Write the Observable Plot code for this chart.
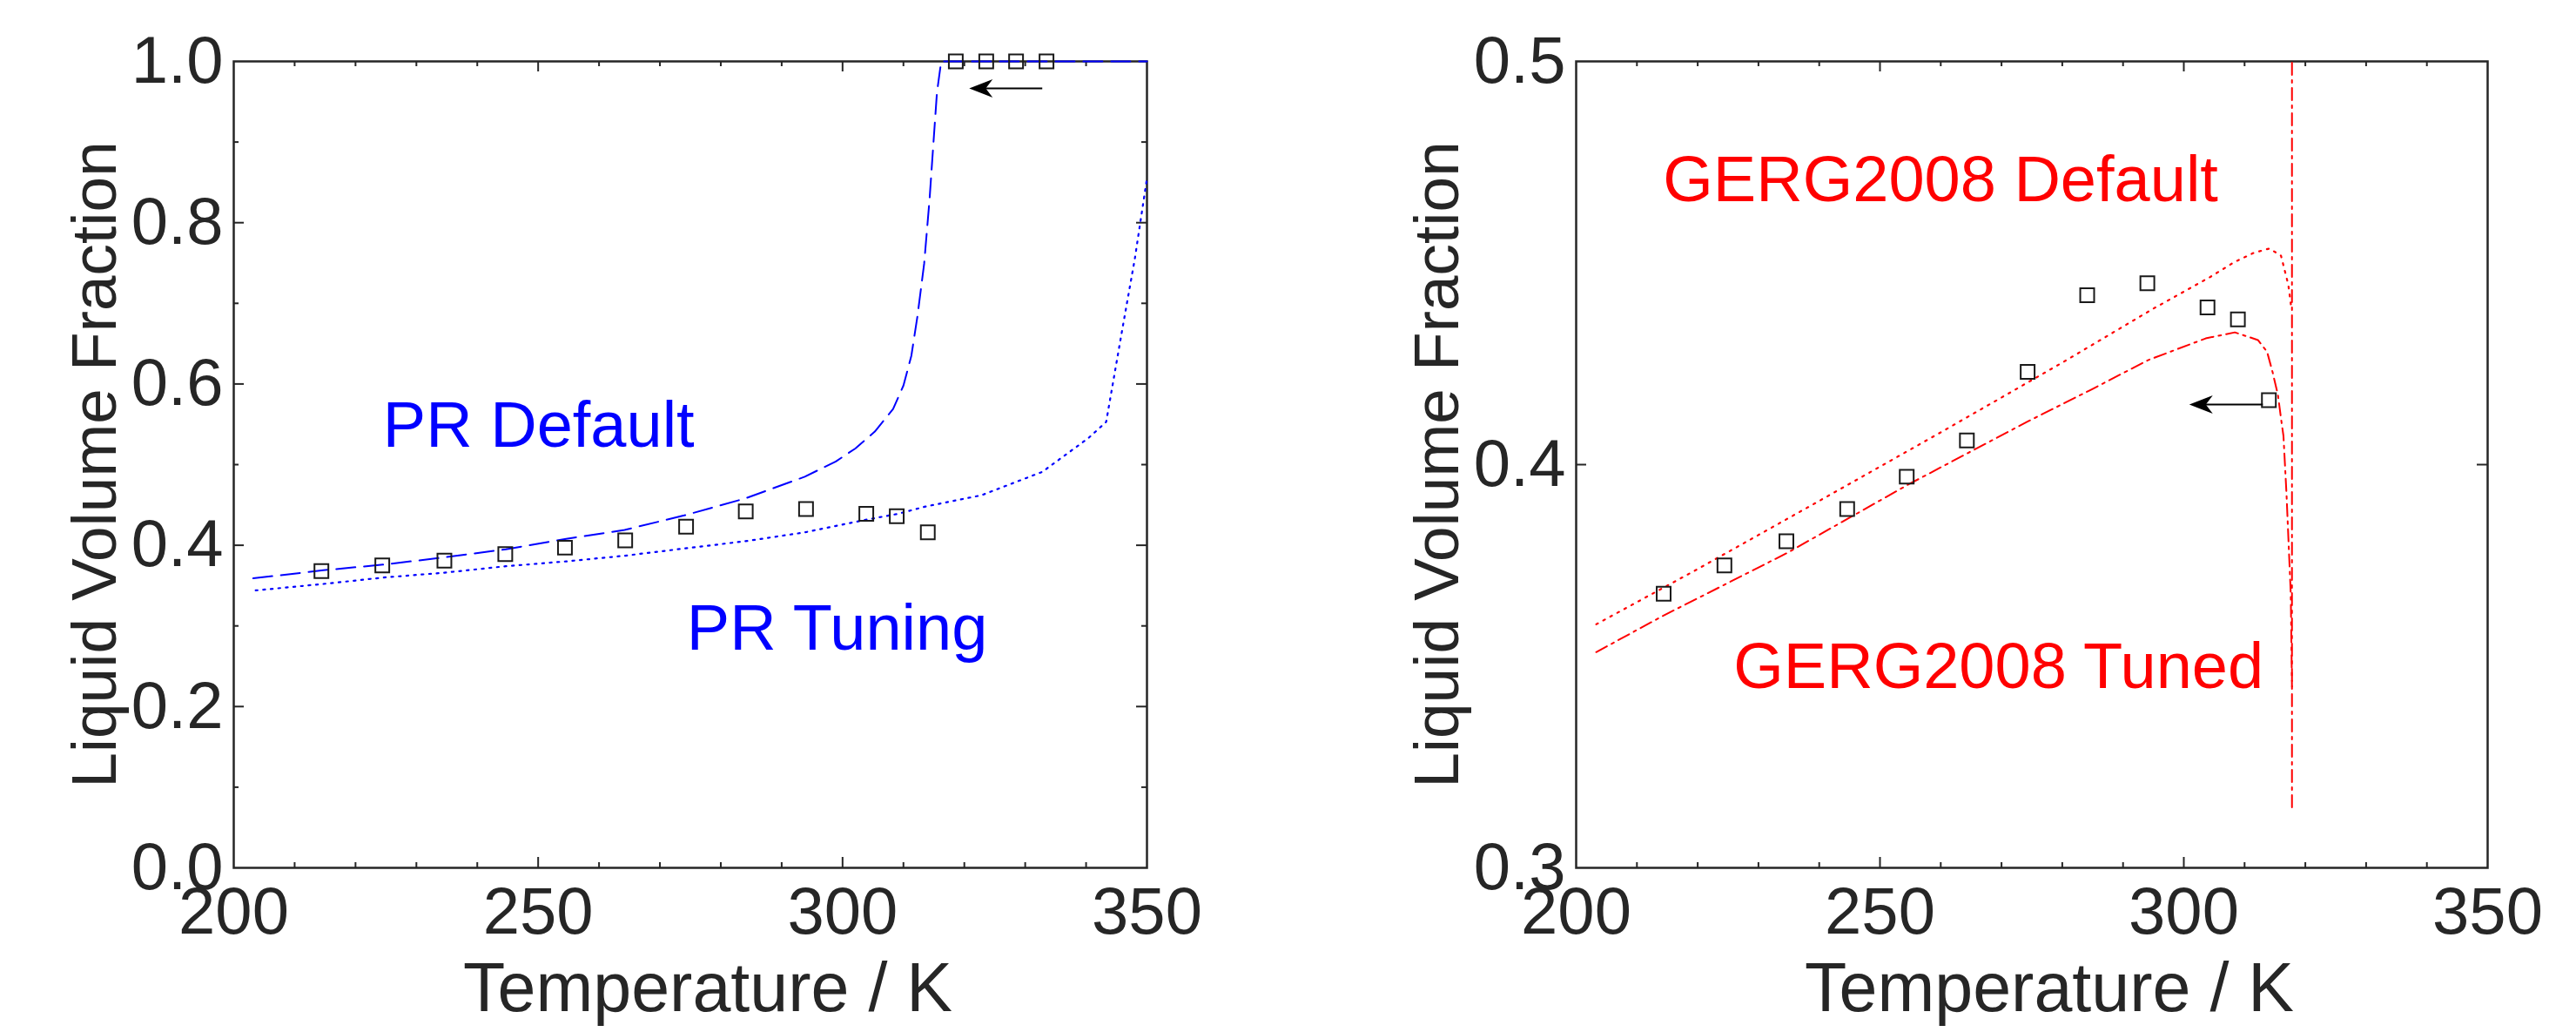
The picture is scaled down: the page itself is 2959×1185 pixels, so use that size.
<!DOCTYPE html>
<html>
<head>
<meta charset="utf-8">
<script src="https://cdn.jsdelivr.net/npm/d3@7"></script>
<script src="https://cdn.jsdelivr.net/npm/@observablehq/plot@0.6"></script>
<style>
html, body { margin: 0; padding: 0; background: #fff; }
#wrap { position: relative; width: 2959px; height: 1185px; overflow: hidden; background: #fff; }
#wrap > * { position: absolute; top: 0; }
</style>
</head>
<body>
<div id="wrap"></div>
<script>
// ---------- data ----------
const xTickLabels = [200, 250, 300, 350];
const xMajorTicks = [250, 300];
const xMinorTicks = [210, 220, 230, 240, 260, 270, 280, 290, 310, 320, 330, 340];
const yTickLabelsL = [0, 0.2, 0.4, 0.6, 0.8, 1.0];
const yMajorTicksL = [0.2, 0.4, 0.6, 0.8];
const yMinorTicksL = [0.1, 0.3, 0.5, 0.7, 0.9];
const yTickLabelsR = [0.3, 0.4, 0.5];
const yMajorTicksR = [0.4];

// experimental points (squares)
const expT = [214.4, 224.4, 234.6, 244.6, 254.4, 264.3, 274.3, 284.1, 294.0, 303.9, 308.9, 314.0];
const expV = [0.368, 0.375, 0.381, 0.389, 0.397, 0.406, 0.423, 0.442, 0.445, 0.439, 0.436, 0.416];
const expTopT = [318.6, 323.6, 328.5, 333.5];
const expTopV = [1.0, 1.0, 1.0, 1.0];

// PR Default (blue dashed)
const prDefT = [203.2, 214.7, 224.6, 234.6, 244.7, 254.6, 264.2, 274.0, 284.0, 293.8, 298.9, 302.1, 305.3, 308.3, 310.0, 311.3, 312.3, 313.4, 314.3, 314.9, 315.5, 316.2, 350];
const prDefV = [0.359, 0.369, 0.376, 0.385, 0.395, 0.408, 0.419, 0.437, 0.458, 0.485, 0.504, 0.520, 0.541, 0.569, 0.598, 0.635, 0.684, 0.749, 0.830, 0.896, 0.961, 1.0, 1.0];

// PR Tuning (blue dotted)
const prTunT = [203.6, 214.7, 224.6, 234.6, 244.7, 254.6, 264.2, 274.0, 284.0, 293.8, 303.4, 309.1, 313.6, 322.8, 332.8, 340.4, 343.3, 344.5, 346.0, 348.0, 350.0];
const prTunV = [0.344, 0.352, 0.360, 0.366, 0.374, 0.380, 0.387, 0.396, 0.405, 0.416, 0.431, 0.439, 0.448, 0.462, 0.491, 0.533, 0.553, 0.605, 0.670, 0.755, 0.855];

// GERG2008 Default (red dotted)
const gDefT = [203.3, 220, 240, 260, 280, 295, 304.3, 308.4, 311.5, 314.1, 316.0, 317.2, 317.7];
const gDefV = [0.3604, 0.3741, 0.3910, 0.4080, 0.4253, 0.4387, 0.4465, 0.4503, 0.4525, 0.4536, 0.4518, 0.4446, 0.4388];

// GERG2008 Tuned (red dash-dot)
const gTunT = [203.3, 214.3, 234.6, 254.7, 274.2, 284.5, 294.1, 303.6, 308.4, 312.2, 313.7, 314.6, 315.5, 316.0, 316.4, 316.9, 317.6, 317.8];
const gTunV = [0.3535, 0.3625, 0.3780, 0.3951, 0.4106, 0.4184, 0.4259, 0.4313, 0.4328, 0.4309, 0.4280, 0.4230, 0.4172, 0.4114, 0.4071, 0.3927, 0.3680, 0.3450];
const gVertT = [317.8, 317.8];
const gVertV = [0.315, 0.5];

// arrows
const arrowLeft = [{x1: 332.8, x2: 320.8, y: 0.9665}];
const arrowRight = [{x1: 313.0, x2: 300.9, y: 0.4149}];

// annotations
const labelsLeft = [
  {text: "PR Default", T: 224.5, v: 0.522},
  {text: "PR Tuning", T: 274.4, v: 0.271}
];
const labelsRight = [
  {text: "GERG2008 Default", T: 214.3, v: 0.4654},
  {text: "GERG2008 Tuned", T: 225.9, v: 0.3447}
];

// ---------- helpers ----------
const pts = (X, Y) => X.map((T, i) => ({T, v: Y[i]}));
const AX = "#262626";
const FONT = "'Liberation Sans', Arial, Helvetica, sans-serif";
const H = 1185, MT = 70, MB = 189;
const FH = H - MT - MB;

const arrowHead = {
  draw(ctx) {
    ctx.moveTo(0, 0);
    ctx.lineTo(27, -10.5);
    ctx.lineTo(19, 0);
    ctx.lineTo(27, 10.5);
    ctx.closePath();
  }
};

function tickMarks(fw, xMaj, xMin, yMaj, yMin) {
  const M = 12, m = 6, sw = 2;
  const o = {stroke: AX, strokeWidth: sw};
  return [
    Plot.tickX(xMaj, {x: d => d, insetTop: FH - M, ...o}),
    Plot.tickX(xMaj, {x: d => d, insetBottom: FH - M, ...o}),
    Plot.tickX(xMin, {x: d => d, insetTop: FH - m, ...o}),
    Plot.tickX(xMin, {x: d => d, insetBottom: FH - m, ...o}),
    Plot.tickY(yMaj, {y: d => d, insetRight: fw - M, ...o}),
    Plot.tickY(yMaj, {y: d => d, insetLeft: fw - M, ...o}),
    Plot.tickY(yMin, {y: d => d, insetRight: fw - m, ...o}),
    Plot.tickY(yMin, {y: d => d, insetLeft: fw - m, ...o})
  ];
}

function axisLabels() {
  return [
    Plot.text(["Temperature / K"], {text: d => d, frameAnchor: "bottom", textAnchor: "middle", dx: 20, dy: 164, lineAnchor: "bottom", fontSize: 79, fill: AX}),
    Plot.text(["Liquid Volume Fraction"], {text: d => d, frameAnchor: "left", textAnchor: "middle", rotate: -90, dx: -136, lineAnchor: "bottom", fontSize: 73, fill: AX})
  ];
}

function arrowMarks(a) {
  return [
    Plot.link(a, {x1: "x1", x2: d => d.x2 + 1.5, y1: "y", y2: "y", stroke: "black", strokeWidth: 2}),
    Plot.dot(a, {x: "x2", y: "y", symbol: arrowHead, r: 10, fill: "black", stroke: "none"})
  ];
}

function squares(X, Y) {
  return Plot.dot(pts(X, Y), {x: "T", y: "v", symbol: "square", r: 9, fill: "none", stroke: "#1a1a1a", strokeWidth: 2});
}

// ---------- left panel ----------
const WL = 1479;
const leftFW = 1317 - 268;
const left = Plot.plot({
  width: WL, height: H,
  marginLeft: 268, marginRight: WL - 1317, marginTop: MT, marginBottom: MB,
  style: {fontSize: "76px", fontFamily: FONT, color: AX, background: "white", overflow: "visible"},
  x: {domain: [200, 350], ticks: xTickLabels, tickSize: 0, tickPadding: 22, tickFormat: d3.format("d"), label: null},
  y: {domain: [0, 1], ticks: yTickLabelsL, tickSize: 0, tickPadding: 12, tickFormat: d3.format(".1f"), label: null},
  marks: [
    Plot.frame({stroke: AX, strokeWidth: 2.5}),
    ...tickMarks(leftFW, xMajorTicks, xMinorTicks, yMajorTicksL, yMinorTicksL),
    Plot.line(pts(prDefT, prDefV), {x: "T", y: "v", stroke: "#0000ff", strokeWidth: 2, strokeDasharray: "22,10"}),
    Plot.line(pts(prTunT, prTunV), {x: "T", y: "v", stroke: "#0000ff", strokeWidth: 2.2, strokeDasharray: "2.2,6.5"}),
    squares(expT, expV),
    squares(expTopT, expTopV),
    ...arrowMarks(arrowLeft),
    Plot.text(labelsLeft, {x: "T", y: "v", text: "text", textAnchor: "start", lineAnchor: "bottom", fontSize: 74, fill: "#0000ff"}),
    ...axisLabels()
  ]
});
left.style.left = "0px";

// ---------- right panel ----------
const WR = 2959 - WL;
const rightFW = 2857 - 1810;
const right = Plot.plot({
  width: WR, height: H,
  marginLeft: 1810 - WL, marginRight: 2959 - 2857, marginTop: MT, marginBottom: MB,
  style: {fontSize: "76px", fontFamily: FONT, color: AX, background: "white", overflow: "visible"},
  x: {domain: [200, 350], ticks: xTickLabels, tickSize: 0, tickPadding: 22, tickFormat: d3.format("d"), label: null},
  y: {domain: [0.3, 0.5], ticks: yTickLabelsR, tickSize: 0, tickPadding: 12, tickFormat: d3.format(".1f"), label: null},
  marks: [
    Plot.frame({stroke: AX, strokeWidth: 2.5}),
    ...tickMarks(rightFW, xMajorTicks, xMinorTicks, yMajorTicksR, []),
    Plot.line(pts(gDefT, gDefV), {x: "T", y: "v", stroke: "#ff0000", strokeWidth: 2.2, strokeDasharray: "2.2,7"}),
    Plot.line(pts(gTunT, gTunV), {x: "T", y: "v", stroke: "#ff0000", strokeWidth: 2, strokeDasharray: "14,6,3,6"}),
    Plot.line(pts(gVertT, gVertV), {x: "T", y: "v", stroke: "#ff0000", strokeWidth: 2, strokeDasharray: "14,6,3,6"}),
    squares(expT, expV),
    ...arrowMarks(arrowRight),
    Plot.text(labelsRight, {x: "T", y: "v", text: "text", textAnchor: "start", lineAnchor: "bottom", fontSize: 74, fill: "#ff0000"}),
    ...axisLabels()
  ]
});
right.style.left = WL + "px";

const wrap = document.getElementById("wrap");
wrap.appendChild(left);
wrap.appendChild(right);
</script>
</body>
</html>
